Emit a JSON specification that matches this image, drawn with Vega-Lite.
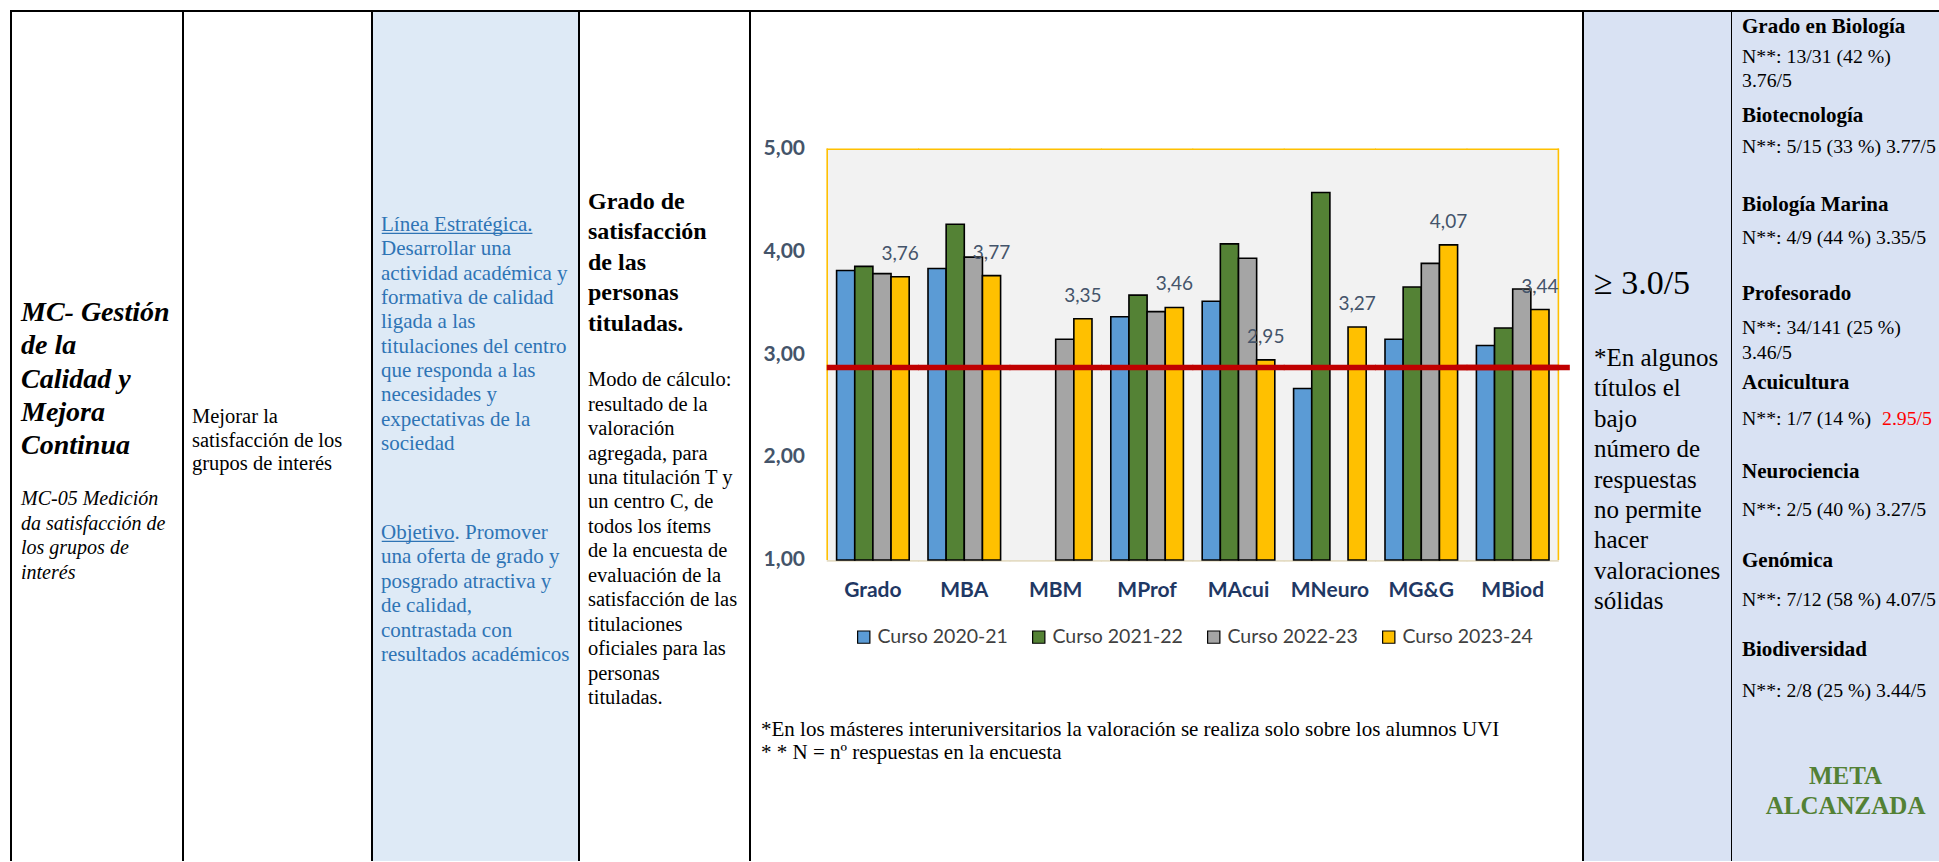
{
  "$schema": "https://vega.github.io/schema/vega-lite/v6.json",
  "padding": {"left": 10, "top": 10, "right": 0, "bottom": 0},
  "background": "white",
  "spacing": 0,
  "bounds": "flush",
  "config": {
    "locale": {"number": {"decimal": ",", "thousands": ".", "grouping": [3], "currency": ["", " €"]}},
    "view": {"stroke": null}
  },
  "datasets": {
    "cats": [
      {"cat": "Grado"}, {"cat": "MBA"}, {"cat": "MBM"}, {"cat": "MProf"},
      {"cat": "MAcui"}, {"cat": "MNeuro"}, {"cat": "MG&G"}, {"cat": "MBiod"}
    ],
    "ticks": [{"tick": 1}, {"tick": 2}, {"tick": 3}, {"tick": 4}, {"tick": 5}],
    "bars": [
      {"cat": "Grado", "curso": "Curso 2020-21", "v": 3.82},
      {"cat": "Grado", "curso": "Curso 2021-22", "v": 3.86},
      {"cat": "Grado", "curso": "Curso 2022-23", "v": 3.79},
      {"cat": "Grado", "curso": "Curso 2023-24", "v": 3.76},
      {"cat": "MBA", "curso": "Curso 2020-21", "v": 3.84},
      {"cat": "MBA", "curso": "Curso 2021-22", "v": 4.27},
      {"cat": "MBA", "curso": "Curso 2022-23", "v": 3.95},
      {"cat": "MBA", "curso": "Curso 2023-24", "v": 3.77},
      {"cat": "MBM", "curso": "Curso 2022-23", "v": 3.15},
      {"cat": "MBM", "curso": "Curso 2023-24", "v": 3.35},
      {"cat": "MProf", "curso": "Curso 2020-21", "v": 3.37},
      {"cat": "MProf", "curso": "Curso 2021-22", "v": 3.58},
      {"cat": "MProf", "curso": "Curso 2022-23", "v": 3.42},
      {"cat": "MProf", "curso": "Curso 2023-24", "v": 3.46},
      {"cat": "MAcui", "curso": "Curso 2020-21", "v": 3.52},
      {"cat": "MAcui", "curso": "Curso 2021-22", "v": 4.08},
      {"cat": "MAcui", "curso": "Curso 2022-23", "v": 3.94},
      {"cat": "MAcui", "curso": "Curso 2023-24", "v": 2.95},
      {"cat": "MNeuro", "curso": "Curso 2020-21", "v": 2.67},
      {"cat": "MNeuro", "curso": "Curso 2021-22", "v": 4.58},
      {"cat": "MNeuro", "curso": "Curso 2023-24", "v": 3.27},
      {"cat": "MG&G", "curso": "Curso 2020-21", "v": 3.15},
      {"cat": "MG&G", "curso": "Curso 2021-22", "v": 3.66},
      {"cat": "MG&G", "curso": "Curso 2022-23", "v": 3.89},
      {"cat": "MG&G", "curso": "Curso 2023-24", "v": 4.07},
      {"cat": "MBiod", "curso": "Curso 2020-21", "v": 3.09},
      {"cat": "MBiod", "curso": "Curso 2021-22", "v": 3.26},
      {"cat": "MBiod", "curso": "Curso 2022-23", "v": 3.64},
      {"cat": "MBiod", "curso": "Curso 2023-24", "v": 3.44}
    ]
  },
  "hconcat": [
    {
      "width": 172, "height": 850,
      "view": {"stroke": "black", "strokeWidth": 2, "strokeDash": [1022, 172, 850, 10]},
      "resolve": {"scale": {"y": "independent"}},
      "layer": [
        {
          "data": {"values": [
            {"line": 0, "t": "MC- Gestión"}, {"line": 1, "t": "de la"}, {"line": 2, "t": "Calidad y"},
            {"line": 3, "t": "Mejora"}, {"line": 4, "t": "Continua"}
          ]},
          "mark": {"type": "text", "align": "left", "baseline": "middle", "dx": 10, "font": "Liberation Serif", "fontSize": 28, "fontWeight": "bold", "fontStyle": "italic", "fill": "black"},
          "encoding": {
            "x": {"datum": 0, "type": "quantitative", "scale": {"domain": [0, 1], "nice": false}, "axis": null},
            "y": {"field": "line", "type": "quantitative", "scale": {"domain": [-9.083, 16.481], "reverse": true, "nice": false, "zero": false}, "axis": null},
            "text": {"field": "t"}
          }
        },
        {
          "data": {"values": [
            {"line": 0, "t": "MC-05 Medición"}, {"line": 1, "t": "da satisfacción de"},
            {"line": 2, "t": "los grupos de"}, {"line": 3, "t": "interés"}
          ]},
          "mark": {"type": "text", "align": "left", "baseline": "middle", "dx": 10, "font": "Liberation Serif", "fontSize": 20, "fontStyle": "italic", "fill": "black"},
          "encoding": {
            "x": {"datum": 0, "type": "quantitative", "scale": {"domain": [0, 1], "nice": false}, "axis": null},
            "y": {"field": "line", "type": "quantitative", "scale": {"domain": [-19.781, 14.674], "reverse": true, "nice": false, "zero": false}, "axis": null},
            "text": {"field": "t"}
          }
        }
      ]
    },
    {
      "width": 189, "height": 850,
      "view": {"stroke": "black", "strokeWidth": 2, "strokeDash": [1039, 189, 850, 10]},
      "layer": [
        {
          "data": {"values": [
            {"line": 0, "t": "\u00a0Mejorar la"}, {"line": 1, "t": "satisfacción de los"}, {"line": 2, "t": "grupos de interés"}
          ]},
          "mark": {"type": "text", "align": "left", "baseline": "middle", "dx": 9, "font": "Liberation Serif", "fontSize": 20.5, "fill": "black"},
          "encoding": {
            "x": {"datum": 0, "type": "quantitative", "scale": {"domain": [0, 1], "nice": false}, "axis": null},
            "y": {"field": "line", "type": "quantitative", "scale": {"domain": [-17.277, 18.893], "reverse": true, "nice": false, "zero": false}, "axis": null},
            "text": {"field": "t"}
          }
        }
      ]
    },
    {
      "width": 207, "height": 850,
      "view": {"fill": "#DEEAF6", "stroke": "black", "strokeWidth": 2, "strokeDash": [1057, 207, 850, 10]},
      "resolve": {"scale": {"y": "independent"}},
      "layer": [
        {
          "data": {"values": [
            {"line": 0, "t": "Línea Estratégica."}, {"line": 1, "t": "Desarrollar una"},
            {"line": 2, "t": "actividad académica y"}, {"line": 3, "t": "formativa de calidad"},
            {"line": 4, "t": "ligada a las"}, {"line": 5, "t": "titulaciones del centro"},
            {"line": 6, "t": "que responda a las"}, {"line": 7, "t": "necesidades y"},
            {"line": 8, "t": "expectativas de la"}, {"line": 9, "t": "sociedad"}
          ]},
          "mark": {"type": "text", "align": "left", "baseline": "middle", "dx": 9, "font": "Liberation Serif", "fontSize": 21, "fill": "#2E74B5"},
          "encoding": {
            "x": {"datum": 0, "type": "quantitative", "scale": {"domain": [0, 1], "nice": false}, "axis": null},
            "y": {"field": "line", "type": "quantitative", "scale": {"domain": [-8.796, 26.14], "reverse": true, "nice": false, "zero": false}, "axis": null},
            "text": {"field": "t"}
          }
        },
        {
          "data": {"values": [{"line": 0}]},
          "mark": {"type": "rule", "stroke": "#2E74B5", "strokeWidth": 1.3},
          "encoding": {
            "x": {"datum": 0.047, "type": "quantitative", "scale": {"domain": [0, 1], "nice": false}, "axis": null},
            "x2": {"datum": 0.775},
            "y": {"datum": 0.34, "type": "quantitative", "scale": {"domain": [-8.796, 26.14], "reverse": true, "nice": false, "zero": false}, "axis": null}
          }
        },
        {
          "data": {"values": [
            {"line": 0, "t": "Objetivo. Promover"}, {"line": 1, "t": "una oferta de grado y"},
            {"line": 2, "t": "posgrado atractiva y"}, {"line": 3, "t": "de calidad,"},
            {"line": 4, "t": "contrastada con"}, {"line": 5, "t": "resultados académicos"}
          ]},
          "mark": {"type": "text", "align": "left", "baseline": "middle", "dx": 9, "font": "Liberation Serif", "fontSize": 21, "fill": "#2E74B5"},
          "encoding": {
            "x": {"datum": 0, "type": "quantitative", "scale": {"domain": [0, 1], "nice": false}, "axis": null},
            "y": {"field": "line", "type": "quantitative", "scale": {"domain": [-21.393, 13.443], "reverse": true, "nice": false, "zero": false}, "axis": null},
            "text": {"field": "t"}
          }
        },
        {
          "data": {"values": [{"line": 0}]},
          "mark": {"type": "rule", "stroke": "#2E74B5", "strokeWidth": 1.3},
          "encoding": {
            "x": {"datum": 0.047, "type": "quantitative", "scale": {"domain": [0, 1], "nice": false}, "axis": null},
            "x2": {"datum": 0.398},
            "y": {"datum": 0.34, "type": "quantitative", "scale": {"domain": [-21.393, 13.443], "reverse": true, "nice": false, "zero": false}, "axis": null}
          }
        }
      ]
    },
    {
      "width": 171, "height": 850,
      "view": {"stroke": "black", "strokeWidth": 2, "strokeDash": [1021, 171, 850, 10]},
      "resolve": {"scale": {"y": "independent"}},
      "layer": [
        {
          "data": {"values": [
            {"line": 0, "t": "Grado de"}, {"line": 1, "t": "satisfacción"}, {"line": 2, "t": "de las"},
            {"line": 3, "t": "personas"}, {"line": 4, "t": "tituladas."}
          ]},
          "mark": {"type": "text", "align": "left", "baseline": "middle", "dx": 9, "font": "Liberation Serif", "fontSize": 24, "fontWeight": "bold", "fill": "black"},
          "encoding": {
            "x": {"datum": 0, "type": "quantitative", "scale": {"domain": [0, 1], "nice": false}, "axis": null},
            "y": {"field": "line", "type": "quantitative", "scale": {"domain": [-6.252, 21.617], "reverse": true, "nice": false, "zero": false}, "axis": null},
            "text": {"field": "t"}
          }
        },
        {
          "data": {"values": [
            {"line": 0, "t": "Modo de cálculo:"}, {"line": 1, "t": "resultado de la"},
            {"line": 2, "t": "valoración"}, {"line": 3, "t": "agregada, para"},
            {"line": 4, "t": "una titulación T y"}, {"line": 5, "t": "un centro C, de"},
            {"line": 6, "t": "todos los ítems"}, {"line": 7, "t": "de la encuesta de"},
            {"line": 8, "t": "evaluación de la"}, {"line": 9, "t": "satisfacción de las"},
            {"line": 10, "t": "titulaciones"}, {"line": 11, "t": "oficiales para las"},
            {"line": 12, "t": "personas"}, {"line": 13, "t": "tituladas."}
          ]},
          "mark": {"type": "text", "align": "left", "baseline": "middle", "dx": 9, "font": "Liberation Serif", "fontSize": 20.5, "fill": "black"},
          "encoding": {
            "x": {"datum": 0, "type": "quantitative", "scale": {"domain": [0, 1], "nice": false}, "axis": null},
            "y": {"field": "line", "type": "quantitative", "scale": {"domain": [-15.11, 19.669], "reverse": true, "nice": false, "zero": false}, "axis": null},
            "text": {"field": "t"}
          }
        }
      ]
    },
    {
      "width": 833, "height": 850,
      "view": {"stroke": "black", "strokeWidth": 2, "strokeDash": [1683, 833, 850, 10]},
      "resolve": {"scale": {"x": "independent"}},
      "layer": [
        {
          "data": {"name": "cats"},
          "mark": {"type": "bar", "fill": "#F2F2F2", "width": {"band": 1.01}},
          "encoding": {
            "x": {"field": "cat", "type": "nominal", "scale": {"type": "band", "domain": ["Grado", "MBA", "MBM", "MProf", "MAcui", "MNeuro", "MG&G", "MBiod"], "paddingInner": 0, "paddingOuter": 0.5569, "align": 0.7583}, "axis": null},
            "y": {"datum": 5, "type": "quantitative", "scale": {"domain": [-1.932, 6.348], "nice": false, "zero": false}, "axis": null},
            "y2": {"datum": 1}
          }
        },
        {
          "data": {"name": "cats"},
          "mark": {"type": "bar", "fill": "#FFC000", "width": {"band": 1.01}},
          "encoding": {
            "x": {"field": "cat", "type": "nominal", "scale": {"type": "band", "domain": ["Grado", "MBA", "MBM", "MProf", "MAcui", "MNeuro", "MG&G", "MBiod"], "paddingInner": 0, "paddingOuter": 0.5569, "align": 0.7583}, "axis": null},
            "y": {"datum": 5.008, "type": "quantitative", "axis": null},
            "y2": {"datum": 4.993}
          }
        },
        {
          "data": {"name": "cats"},
          "mark": {"type": "bar", "fill": "#E4DCC4", "width": {"band": 1.01}},
          "encoding": {
            "x": {"field": "cat", "type": "nominal", "scale": {"type": "band", "domain": ["Grado", "MBA", "MBM", "MProf", "MAcui", "MNeuro", "MG&G", "MBiod"], "paddingInner": 0, "paddingOuter": 0.5569, "align": 0.7583}, "axis": null},
            "y": {"datum": 1.0, "type": "quantitative", "axis": null},
            "y2": {"datum": 0.982}
          }
        },
        {
          "data": {"name": "cats"},
          "transform": [{"filter": "datum.cat === 'Grado'"}],
          "mark": {"type": "rule", "stroke": "#FFC000", "strokeWidth": 1.6},
          "encoding": {
            "x": {"field": "cat", "type": "nominal", "bandPosition": 0, "scale": {"type": "band", "domain": ["Grado", "MBA", "MBM", "MProf", "MAcui", "MNeuro", "MG&G", "MBiod"], "paddingInner": 0, "paddingOuter": 0.5569, "align": 0.7583}, "axis": null},
            "y": {"datum": 1, "type": "quantitative", "axis": null},
            "y2": {"datum": 5.008}
          }
        },
        {
          "data": {"name": "cats"},
          "transform": [{"filter": "datum.cat === 'MBiod'"}],
          "mark": {"type": "rule", "stroke": "#FFC000", "strokeWidth": 1.6},
          "encoding": {
            "x": {"field": "cat", "type": "nominal", "bandPosition": 1, "scale": {"type": "band", "domain": ["Grado", "MBA", "MBM", "MProf", "MAcui", "MNeuro", "MG&G", "MBiod"], "paddingInner": 0, "paddingOuter": 0.5569, "align": 0.7583}, "axis": null},
            "y": {"datum": 1, "type": "quantitative", "axis": null},
            "y2": {"datum": 5.008}
          }
        },
        {
          "data": {"name": "bars"},
          "mark": {"type": "bar", "stroke": "black", "strokeWidth": 1.6},
          "encoding": {
            "x": {"field": "cat", "type": "nominal", "scale": {"type": "band", "domain": ["Grado", "MBA", "MBM", "MProf", "MAcui", "MNeuro", "MG&G", "MBiod"], "paddingInner": 0, "paddingOuter": 0.5569, "align": 0.7583}, "axis": null},
            "xOffset": {"field": "curso", "type": "nominal", "scale": {"type": "band", "domain": ["Curso 2020-21", "Curso 2021-22", "Curso 2022-23", "Curso 2023-24"], "paddingInner": 0, "paddingOuter": 0.518}},
            "y": {"field": "v", "type": "quantitative", "axis": null},
            "y2": {"datum": 1},
            "color": {"field": "curso", "type": "nominal",
                      "scale": {"domain": ["Curso 2020-21", "Curso 2021-22", "Curso 2022-23", "Curso 2023-24"], "range": ["#5B9BD5", "#548235", "#A5A5A5", "#FFC000"]},
                      "legend": {"orient": "none", "legendX": 843, "legendY": 616, "direction": "horizontal", "columns": 4, "gridAlign": "all", "title": null, "symbolType": "square", "symbolSize": 150, "symbolStrokeColor": "black", "symbolStrokeWidth": 1.2, "labelFont": "Lato", "labelFontSize": 19.5, "labelColor": "#404040", "labelOffset": 4, "columnPadding": 21, "padding": 0}}
          }
        },
        {
          "data": {"name": "cats"},
          "mark": {"type": "bar", "fill": "#C00000", "width": {"band": 1.01}},
          "encoding": {
            "x": {"field": "cat", "type": "nominal", "scale": {"type": "band", "domain": ["Grado", "MBA", "MBM", "MProf", "MAcui", "MNeuro", "MG&G", "MBiod"], "paddingInner": 0, "paddingOuter": 0.5569, "align": 0.7583}, "axis": null},
            "y": {"datum": 2.901, "type": "quantitative", "axis": null},
            "y2": {"datum": 2.849}
          }
        },
        {
          "data": {"name": "cats"},
          "transform": [{"filter": "datum.cat === 'MBiod'"}],
          "mark": {"type": "bar", "fill": "#C00000", "width": {"band": 1.25}},
          "encoding": {
            "x": {"field": "cat", "type": "nominal", "scale": {"type": "band", "domain": ["Grado", "MBA", "MBM", "MProf", "MAcui", "MNeuro", "MG&G", "MBiod"], "paddingInner": 0, "paddingOuter": 0.5569, "align": 0.7583}, "axis": null},
            "y": {"datum": 2.901, "type": "quantitative", "axis": null},
            "y2": {"datum": 2.849}
          }
        },
        {
          "data": {"name": "bars"},
          "transform": [{"filter": "datum.curso === 'Curso 2023-24'"}],
          "mark": {"type": "text", "align": "center", "baseline": "middle", "dy": -23, "font": "Lato", "fontSize": 19, "fill": "#44546A"},
          "encoding": {
            "x": {"field": "cat", "type": "nominal", "scale": {"type": "band", "domain": ["Grado", "MBA", "MBM", "MProf", "MAcui", "MNeuro", "MG&G", "MBiod"], "paddingInner": 0, "paddingOuter": 0.5569, "align": 0.7583}, "axis": null},
            "xOffset": {"field": "curso", "type": "nominal", "scale": {"type": "band", "domain": ["Curso 2020-21", "Curso 2021-22", "Curso 2022-23", "Curso 2023-24"], "paddingInner": 0, "paddingOuter": 0.518}},
            "y": {"field": "v", "type": "quantitative", "axis": null},
            "text": {"field": "v", "type": "quantitative", "format": ".2f"}
          }
        },
        {
          "data": {"name": "cats"},
          "mark": {"type": "text", "align": "center", "baseline": "middle", "font": "Lato", "fontSize": 21, "fontWeight": "bold", "fill": "#1F3864"},
          "encoding": {
            "x": {"field": "cat", "type": "nominal", "scale": {"type": "band", "domain": ["Grado", "MBA", "MBM", "MProf", "MAcui", "MNeuro", "MG&G", "MBiod"], "paddingInner": 0, "paddingOuter": 0.5569, "align": 0.7583}, "axis": null},
            "y": {"datum": 0.698, "type": "quantitative", "axis": null},
            "text": {"field": "cat"}
          }
        },
        {
          "data": {"name": "ticks"},
          "mark": {"type": "text", "align": "right", "baseline": "middle", "dx": 55, "font": "Lato", "fontSize": 21, "fontWeight": "bold", "fill": "#44546A"},
          "encoding": {
            "x": {"datum": 0, "type": "quantitative", "scale": {"domain": [0, 1], "nice": false}, "axis": null},
            "y": {"field": "tick", "type": "quantitative", "axis": null},
            "text": {"field": "tick", "type": "quantitative", "format": ".2f"}
          }
        },
        {
          "data": {"values": [{"t": "*En los másteres interuniversitarios la valoración se realiza solo sobre los alumnos UVI"}]},
          "mark": {"type": "text", "align": "left", "baseline": "middle", "dx": 11, "font": "Liberation Serif", "fontSize": 21, "fill": "black"},
          "encoding": {
            "x": {"datum": 0, "type": "quantitative", "scale": {"domain": [0, 1], "nice": false}, "axis": null},
            "y": {"datum": -0.653, "type": "quantitative", "axis": null},
            "text": {"field": "t"}
          }
        },
        {
          "data": {"values": [{"t": "* *  N = nº respuestas en la encuesta"}]},
          "mark": {"type": "text", "align": "left", "baseline": "middle", "dx": 11, "font": "Liberation Serif", "fontSize": 21, "fill": "black"},
          "encoding": {
            "x": {"datum": 0, "type": "quantitative", "scale": {"domain": [0, 1], "nice": false}, "axis": null},
            "y": {"datum": -0.88, "type": "quantitative", "axis": null},
            "text": {"field": "t"}
          }
        }
      ]
    },
    {
      "width": 149, "height": 850,
      "view": {"fill": "#D9E2F3", "stroke": "black", "strokeWidth": 2, "strokeDash": [999, 149, 850, 10]},
      "resolve": {"scale": {"y": "independent"}},
      "layer": [
        {
          "data": {"values": [{"line": 0, "t": "≥ 3.0/5"}]},
          "mark": {"type": "text", "align": "left", "baseline": "middle", "dx": 11, "font": "Liberation Serif", "fontSize": 34, "fill": "black"},
          "encoding": {
            "x": {"datum": 0, "type": "quantitative", "scale": {"domain": [0, 1], "nice": false}, "axis": null},
            "y": {"field": "line", "type": "quantitative", "scale": {"domain": [-9.1, 19.233], "reverse": true, "nice": false, "zero": false}, "axis": null},
            "text": {"field": "t"}
          }
        },
        {
          "data": {"values": [
            {"line": 0, "t": "*En algunos"}, {"line": 1, "t": "títulos el"}, {"line": 2, "t": "bajo"},
            {"line": 3, "t": "número de"}, {"line": 4, "t": "respuestas"}, {"line": 5, "t": "no permite"},
            {"line": 6, "t": "hacer"}, {"line": 7, "t": "valoraciones"}, {"line": 8, "t": "sólidas"}
          ]},
          "mark": {"type": "text", "align": "left", "baseline": "middle", "dx": 11, "font": "Liberation Serif", "fontSize": 25, "fill": "black"},
          "encoding": {
            "x": {"datum": 0, "type": "quantitative", "scale": {"domain": [0, 1], "nice": false}, "axis": null},
            "y": {"field": "line", "type": "quantitative", "scale": {"domain": [-11.414, 16.547], "reverse": true, "nice": false, "zero": false}, "axis": null},
            "text": {"field": "t"}
          }
        }
      ]
    },
    {
      "width": 208, "height": 850,
      "view": {"fill": "#D9E2F3", "stroke": "black", "strokeWidth": 2, "strokeDash": [208, 2200]},
      "resolve": {"scale": {"y": "independent"}},
      "layer": [
        {
          "data": {"values": [
            {"e": 0, "t": "Grado en Biología"}, {"e": 1, "t": "Biotecnología"}, {"e": 2, "t": "Biología Marina"},
            {"e": 3, "t": "Profesorado"}, {"e": 4, "t": "Acuicultura"}, {"e": 5, "t": "Neurociencia"},
            {"e": 6, "t": "Genómica"}, {"e": 7, "t": "Biodiversidad"}
          ]},
          "mark": {"type": "text", "align": "left", "baseline": "middle", "dx": 10, "font": "Liberation Serif", "fontSize": 21, "fontWeight": "bold", "fill": "black", "clip": true},
          "encoding": {
            "x": {"datum": 0, "type": "quantitative", "scale": {"domain": [0, 1], "nice": false}, "axis": null},
            "y": {"field": "e", "type": "quantitative", "scale": {"domain": [-0.1742, 9.3764], "reverse": true, "nice": false, "zero": false}, "axis": null},
            "text": {"field": "t"}
          }
        },
        {
          "data": {"values": [
            {"e": 0, "t": "N**: 13/31 (42 %)"}, {"e": 1, "t": "N**: 5/15 (33 %) 3.77/5"},
            {"e": 2, "t": "N**: 4/9 (44 %) 3.35/5"}, {"e": 3, "t": "N**: 34/141 (25 %)"},
            {"e": 4, "t": "N**: 1/7 (14 %)"}, {"e": 5, "t": "N**: 2/5 (40 %) 3.27/5"},
            {"e": 6, "t": "N**: 7/12 (58 %) 4.07/5"}, {"e": 7, "t": "N**: 2/8 (25 %) 3.44/5"}
          ]},
          "mark": {"type": "text", "align": "left", "baseline": "middle", "dx": 10, "font": "Liberation Serif", "fontSize": 19.8, "fill": "black", "clip": true},
          "encoding": {
            "x": {"datum": 0, "type": "quantitative", "scale": {"domain": [0, 1], "nice": false}, "axis": null},
            "y": {"field": "e", "type": "quantitative", "scale": {"domain": [-0.5021, 8.8777], "reverse": true, "nice": false, "zero": false}, "axis": null},
            "text": {"field": "t"}
          }
        },
        {
          "data": {"values": [{"e": 0, "t": "3.76/5"}, {"e": 3, "t": "3.46/5"}]},
          "mark": {"type": "text", "align": "left", "baseline": "middle", "dx": 10, "dy": 24.7, "font": "Liberation Serif", "fontSize": 19.8, "fill": "black", "clip": true},
          "encoding": {
            "x": {"datum": 0, "type": "quantitative", "scale": {"domain": [0, 1], "nice": false}, "axis": null},
            "y": {"field": "e", "type": "quantitative", "scale": {"domain": [-0.5021, 8.8777], "reverse": true, "nice": false, "zero": false}, "axis": null},
            "text": {"field": "t"}
          }
        },
        {
          "data": {"values": [{"e": 4, "t": "2.95/5"}]},
          "mark": {"type": "text", "align": "left", "baseline": "middle", "dx": 150, "font": "Liberation Serif", "fontSize": 19.8, "fill": "#FF0000", "clip": true},
          "encoding": {
            "x": {"datum": 0, "type": "quantitative", "scale": {"domain": [0, 1], "nice": false}, "axis": null},
            "y": {"field": "e", "type": "quantitative", "scale": {"domain": [-0.5021, 8.8777], "reverse": true, "nice": false, "zero": false}, "axis": null},
            "text": {"field": "t"}
          }
        },
        {
          "data": {"values": [{"line": 0, "t": "META"}, {"line": 1, "t": "ALCANZADA"}]},
          "mark": {"type": "text", "align": "center", "baseline": "middle", "font": "Liberation Serif", "fontSize": 25, "fontWeight": "bold", "fill": "#538135", "clip": true},
          "encoding": {
            "x": {"datum": 0.546, "type": "quantitative", "scale": {"domain": [0, 1], "nice": false}, "axis": null},
            "y": {"field": "line", "type": "quantitative", "scale": {"domain": [-25.164, 2.797], "reverse": true, "nice": false, "zero": false}, "axis": null},
            "text": {"field": "t"}
          }
        }
      ]
    }
  ]
}
